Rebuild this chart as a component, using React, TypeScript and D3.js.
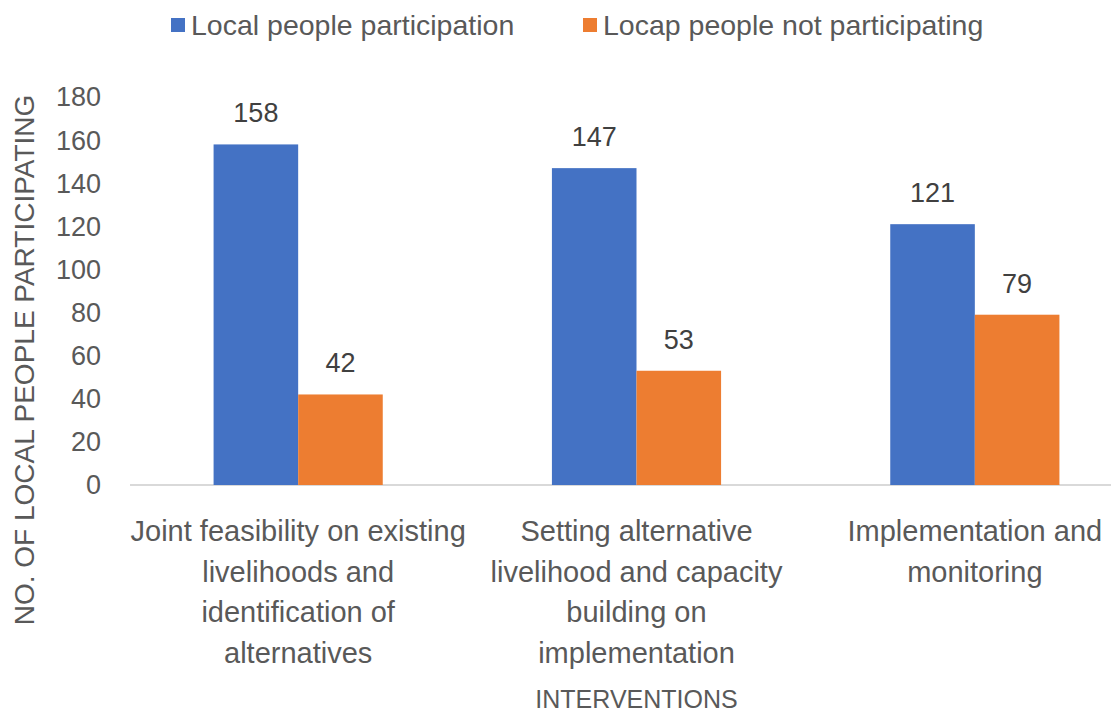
import React, { useEffect, useRef } from 'react';
import * as d3 from 'd3';

const categories = ['Joint feasibility', 'Setting alternative', 'Implementation'];
const categoryLines = [
    ['Joint feasibility on existing', 'livelihoods and', 'identification of', 'alternatives'],
    ['Setting alternative', 'livelihood and capacity', 'building on', 'implementation'],
    ['Implementation and', 'monitoring'],
];
const seriesNames = ['Local people participation', 'Locap people not participating'];
const participating = [158, 147, 121];
const notParticipating = [42, 53, 79];
const yTicks = [0, 20, 40, 60, 80, 100, 120, 140, 160, 180];

const colors = ['#4472C4', '#ED7D31'];
const textColor = '#595959';
const font = "'Liberation Sans Narrow', 'Arial Narrow', sans-serif";

export default function App() {
    const svgRef = useRef<SVGSVGElement>(null);

    useEffect(() => {
        const svg = d3.select(svgRef.current);
        svg.selectAll('*').remove();

        const width = 1115;
        const baseY = 485;
        const topY = 97;

        const x = d3.scaleBand<string>()
            .domain(categories)
            .range([129, 1144])
            .paddingInner(0.5)
            .paddingOuter(0.25);

        const xSub = d3.scaleBand<number>()
            .domain([0, 1])
            .range([0, x.bandwidth()]);

        const y = d3.scaleLinear().domain([0, 180]).range([baseY, topY]);

        const series = [participating, notParticipating];

        // axis line
        svg.append('line')
            .attr('x1', 130)
            .attr('x2', width - 4)
            .attr('y1', y(0))
            .attr('y2', y(0))
            .attr('stroke', '#d9d9d9')
            .attr('stroke-width', 2);

        // y tick labels
        svg.append('g')
            .selectAll('text')
            .data(yTicks)
            .join('text')
            .attr('x', 101)
            .attr('y', (d) => y(d))
            .attr('dy', '0.35em')
            .attr('text-anchor', 'end')
            .attr('fill', textColor)
            .style('font-family', font)
            .style('font-size', '27px')
            .text((d) => d);

        // bars + value labels
        series.forEach((values, si) => {
            const g = svg.append('g');
            g.selectAll('rect')
                .data(values)
                .join('rect')
                .attr('x', (d, i) => (x(categories[i]) ?? 0) + (xSub(si) ?? 0))
                .attr('y', (d) => y(d))
                .attr('width', xSub.bandwidth())
                .attr('height', (d) => y(0) - y(d))
                .attr('fill', colors[si]);

            g.selectAll('text')
                .data(values)
                .join('text')
                .attr('x', (d, i) => (x(categories[i]) ?? 0) + (xSub(si) ?? 0) + xSub.bandwidth() / 2)
                .attr('y', (d) => y(d) - 22)
                .attr('text-anchor', 'middle')
                .attr('fill', '#404040')
                .style('font-family', font)
                .style('font-size', '27px')
                .text((d) => d);
        });

        // category labels
        categories.forEach((c, i) => {
            svg.append('text')
                .attr('x', (x(c) ?? 0) + x.bandwidth() / 2)
                .attr('y', 541)
                .attr('text-anchor', 'middle')
                .attr('fill', textColor)
                .style('font-family', font)
                .style('font-size', '29px')
                .selectAll('tspan')
                .data(categoryLines[i])
                .join('tspan')
                .attr('x', (x(c) ?? 0) + x.bandwidth() / 2)
                .attr('dy', (d, j) => (j === 0 ? 0 : 40.5))
                .text((d) => d);
        });

        // x-axis title
        svg.append('text')
            .attr('x', (x(categories[1]) ?? 0) + x.bandwidth() / 2)
            .attr('y', 708)
            .attr('text-anchor', 'middle')
            .attr('fill', textColor)
            .style('font-family', font)
            .style('font-size', '25px')
            .text('INTERVENTIONS');

        // y-axis title
        svg.append('text')
            .attr('transform', 'translate(34,360) rotate(-90)')
            .attr('text-anchor', 'middle')
            .attr('fill', textColor)
            .style('font-family', font)
            .style('font-size', '28px')
            .text('NO. OF LOCAL PEOPLE PARTICIPATING');

        // legend
        const legendX = [171, 583];
        const legend = svg.append('g');
        seriesNames.forEach((name, i) => {
            legend.append('rect')
                .attr('x', legendX[i])
                .attr('y', 18)
                .attr('width', 14)
                .attr('height', 14)
                .attr('fill', colors[i]);
            legend.append('text')
                .attr('x', legendX[i] + 20)
                .attr('y', 35)
                .attr('fill', textColor)
                .style('font-family', font)
                .style('font-size', '28.5px')
                .text(name);
        });
    }, []);

    return (
        <svg
            ref={svgRef}
            width={1115}
            height={715}
            style={{ position: 'absolute', left: 0, top: 0, background: '#fff' }}
        />
    );
}
